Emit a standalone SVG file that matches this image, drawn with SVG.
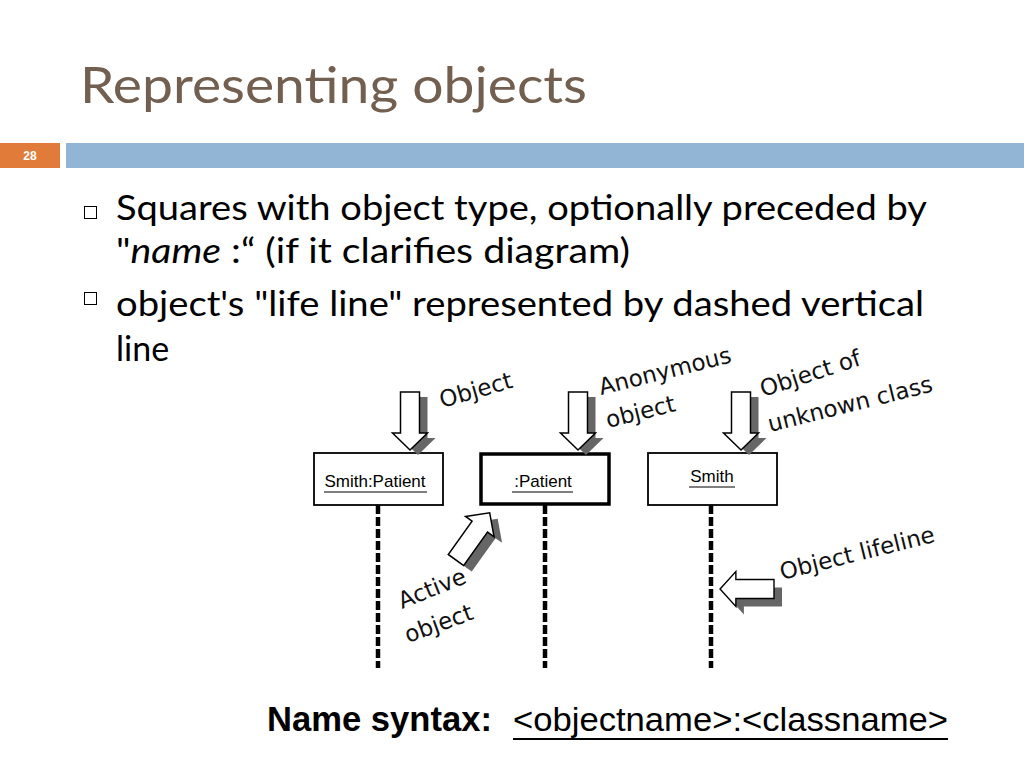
<svg xmlns="http://www.w3.org/2000/svg" width="1024" height="768" viewBox="0 0 1024 768">
<style>
.title{font-family:"Lato","Open Sans",sans-serif;font-size:50px;fill:#735f4f}
.body{font-family:"Lato","Open Sans",sans-serif;font-size:34px;fill:#000}
.box{fill:#fff;stroke:#000;stroke-width:1.8}
.boxa{fill:#fff;stroke:#000;stroke-width:3.5}
.lbl{font-family:"Liberation Sans",Arial,sans-serif;font-size:17px;fill:#000;text-anchor:middle}
.ul{stroke:#000;stroke-width:1.2}
.life{stroke:#000;stroke-width:4.5;stroke-dasharray:9 3;fill:none}
.hand{font-family:"DejaVu Sans",sans-serif;font-size:23px;fill:#111}
.arr{fill:#fff;stroke:#000;stroke-width:1.5}
.shd{fill:#666}
</style>
<defs>
<path id="darrow" d="M-9.5,0 H9.5 V41 H17.5 L0,58 L-17.5,41 H-9.5 Z"/>
</defs>

<text class="title" x="80" y="103" textLength="507" lengthAdjust="spacingAndGlyphs">Representing objects</text>
<rect x="0" y="143" width="60" height="25" fill="#e07b39"/>
<text x="30" y="160" font-family="Liberation Sans,Arial,sans-serif" font-size="12" font-weight="bold" fill="#fff" text-anchor="middle">28</text>
<rect x="66" y="143" width="958" height="25" fill="#93b5d5"/>

<g id="bullets">
<rect x="84.5" y="206.5" width="12" height="12" fill="none" stroke="#000" stroke-width="1"/>
<text class="body" x="116" y="220" textLength="811" lengthAdjust="spacingAndGlyphs">Squares with object type, optionally preceded by</text>
<text class="body" x="116" y="263" textLength="514" lengthAdjust="spacingAndGlyphs">"<tspan font-style="italic">name</tspan> :“ (if it clarifies diagram)</text>
<rect x="84.5" y="292.5" width="12" height="12" fill="none" stroke="#000" stroke-width="1"/>
<text class="body" x="116" y="316" textLength="808" lengthAdjust="spacingAndGlyphs">object's "life line" represented by dashed vertical</text>
<text class="body" x="116" y="361">line</text>
</g>

<g id="connectors">
<line class="life" x1="378" y1="505" x2="378" y2="668"/>
<line class="life" x1="545" y1="505" x2="545" y2="668"/>
<line class="life" x1="711" y1="505" x2="711" y2="668"/>
</g>

<g id="obj1">
<rect class="box" x="314" y="453" width="129" height="52"/>
<text class="lbl" x="375" y="487">Smith:Patient</text>
<line class="ul" x1="324" y1="492" x2="427" y2="492"/>
</g>
<g id="obj2">
<rect class="boxa" x="481" y="454" width="128" height="50"/>
<text class="lbl" x="543" y="487">:Patient</text>
<line class="ul" x1="512" y1="492" x2="573" y2="492"/>
</g>
<g id="obj3">
<rect class="box" x="648" y="453" width="129" height="52"/>
<text class="lbl" x="712" y="482">Smith</text>
<line class="ul" x1="689" y1="487" x2="735" y2="487"/>
</g>

<g id="arrow-object">
<use href="#darrow" class="shd" transform="translate(418,397)"/>
<use href="#darrow" class="arr" transform="translate(410,392)"/>
<text class="hand" transform="translate(442,408) rotate(-16)">Object</text>
</g>
<g id="arrow-anon">
<use href="#darrow" class="shd" transform="translate(586,397)"/>
<use href="#darrow" class="arr" transform="translate(578,392)"/>
<text class="hand" transform="translate(601,395) rotate(-14)">Anonymous</text>
<text class="hand" transform="translate(608,428) rotate(-14)">object</text>
</g>
<g id="arrow-unknown">
<use href="#darrow" class="shd" transform="translate(749,397)"/>
<use href="#darrow" class="arr" transform="translate(741,392)"/>
<text class="hand" transform="translate(763,397) rotate(-18)">Object of</text>
<text class="hand" transform="translate(770,432) rotate(-14)">unknown class</text>
</g>
<g id="arrow-active">
<use href="#darrow" class="shd" transform="translate(464,566) rotate(-144.5)"/>
<use href="#darrow" class="arr" transform="translate(456,560) rotate(-144.5)"/>
<text class="hand" transform="translate(402,609) rotate(-22)">Active</text>
<text class="hand" transform="translate(408,643) rotate(-20)">object</text>
</g>
<g id="arrow-lifeline">
<use href="#darrow" class="shd" transform="translate(782,597) rotate(90) scale(1,0.93)"/>
<use href="#darrow" class="arr" transform="translate(774,589) rotate(90) scale(1,0.93)"/>
<text class="hand" transform="translate(782,580) rotate(-14)">Object lifeline</text>
</g>

<g id="syntax">
<text x="267" y="731" font-family="Liberation Sans,Arial,sans-serif" font-size="35" font-weight="bold" fill="#000" textLength="225" lengthAdjust="spacingAndGlyphs">Name syntax:</text>
<text x="513" y="731" font-family="Liberation Sans,Arial,sans-serif" font-size="34" fill="#000" textLength="435" lengthAdjust="spacingAndGlyphs">&lt;objectname&gt;:&lt;classname&gt;</text>
<line x1="513" y1="739" x2="948" y2="739" stroke="#000" stroke-width="2"/>
</g>
</svg>
